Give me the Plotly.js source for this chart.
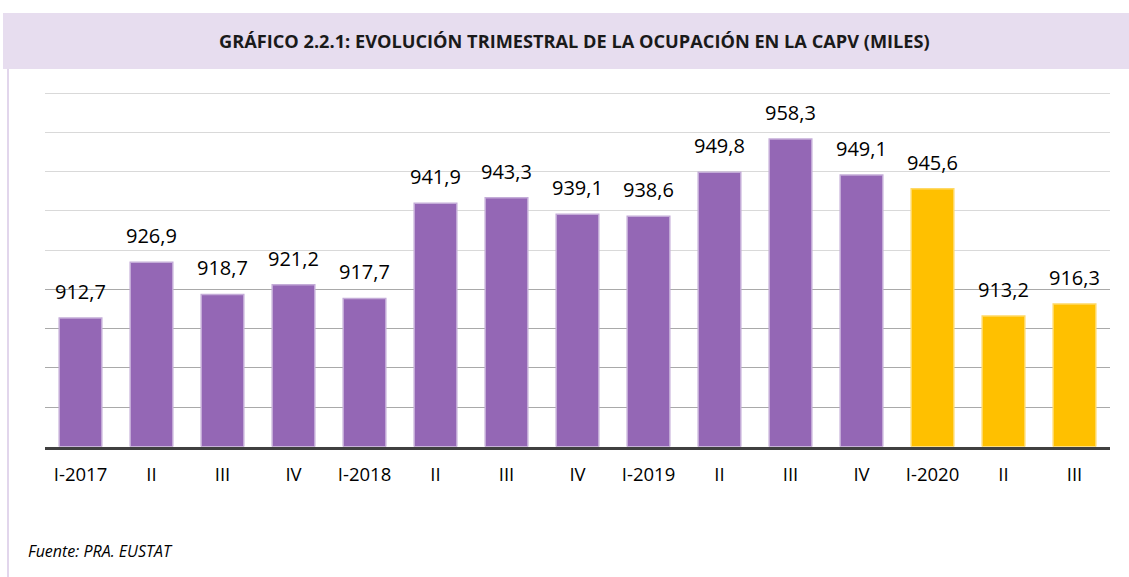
<!DOCTYPE html>
<html><head><meta charset="utf-8">
<script src="https://cdn.plot.ly/plotly-3.0.1.min.js"></script>
<style>html,body{margin:0;padding:0;background:#fff}#c{width:1129px;height:577px}</style>
</head><body><div id="c"></div>
<script>
var categories = ["I-2017","II","III","IV","I-2018","II","III","IV","I-2019","II","III","IV","I-2020","II","III"];
var values = [912.7,926.9,918.7,921.2,917.7,941.9,943.3,939.1,938.6,949.8,958.3,949.1,945.6,913.2,916.3];
var colors = ["#9467b5","#9467b5","#9467b5","#9467b5","#9467b5","#9467b5","#9467b5","#9467b5","#9467b5","#9467b5","#9467b5","#9467b5","#ffc000","#ffc000","#ffc000"];
var lineColors = ["#c4acd8","#c4acd8","#c4acd8","#c4acd8","#c4acd8","#c4acd8","#c4acd8","#c4acd8","#c4acd8","#c4acd8","#c4acd8","#c4acd8","#ffd966","#ffd966","#ffd966"];
var lightGridVals = [930, 940, 950, 960, 970];
var darkGridVals = [890, 900, 910, 920];
var titleText = "GRÁFICO 2.2.1: EVOLUCIÓN TRIMESTRAL DE LA OCUPACIÓN EN LA CAPV (MILES)";
var sourceText = "Fuente: PRA. EUSTAT";

var W = 1129, H = 577;
var xs = categories.map(function(c,i){return i;});
var font = "'Open Sans', 'Noto Sans', sans-serif";
var yRange = [880, 971];
var pxPerUnit = (446.5 - 93) / 90;
var yDomain = [1 - 446.5/H, 1 - (93 - 1 * pxPerUnit)/H];

var trace = {
  type: "bar", x: xs, y: values,
  marker: {color: colors, line: {color: lineColors, width: 1.5}},
  width: 0.6, hoverinfo: "skip"
};
// invisible trace to activate second (overlay) y axis carrying darker gridlines
var ghost = {type: "scatter", x: [0], y: [900], yaxis: "y2", mode: "markers",
  marker: {opacity: 0}, hoverinfo: "skip"};

var annotations = values.map(function(v,i){
  return {x: i, y: v, xref: "x", yref: "y", text: v.toFixed(1).replace(".", ","),
    showarrow: false, yanchor: "bottom", yshift: 11,
    font: {family: font, size: 20, color: "#000"}};
});
annotations.push({xref: "paper", yref: "paper", x: 574/W, y: 1 - 41/H, text: "<b>" + titleText + "</b>",
  showarrow: false, xanchor: "center", yanchor: "middle",
  font: {family: font, size: 18.2, color: "#1a1a1a"}});
annotations.push({xref: "paper", yref: "paper", x: 26/W, y: 1 - 551/H, text: "<i>" + sourceText + "</i>",
  showarrow: false, xanchor: "left", yanchor: "middle",
  font: {family: font, size: 16, color: "#000"}});

var layout = {
  width: W, height: H,
  margin: {l: 0, r: 0, t: 0, b: 0},
  paper_bgcolor: "#fff", plot_bgcolor: "rgba(0,0,0,0)",
  showlegend: false,
  separators: ",.",
  xaxis: {
    domain: [45/W, 1110/W], range: [-0.5, 14.5],
    tickmode: "array", tickvals: xs, ticktext: categories,
    showgrid: false, showline: true, linecolor: "#404040", linewidth: 3,
    ticks: "outside", ticklen: 9, tickcolor: "rgba(0,0,0,0)",
    tickfont: {family: font, size: 18.5, color: "#000"}, fixedrange: true
  },
  yaxis: {
    domain: yDomain, range: yRange,
    tickmode: "array", tickvals: lightGridVals,
    showticklabels: false, showgrid: true, gridcolor: "#d9d9d9", gridwidth: 1,
    zeroline: false, showline: false, fixedrange: true
  },
  yaxis2: {
    domain: yDomain, range: yRange, overlaying: "y", side: "left",
    tickmode: "array", tickvals: darkGridVals,
    showticklabels: false, showgrid: true, gridcolor: "#a9a9a9", gridwidth: 1,
    zeroline: false, showline: false, fixedrange: true
  },
  shapes: [
    {type: "rect", xref: "paper", yref: "paper", x0: 3/W, x1: 1, y0: 1 - 69/H, y1: 1 - 13/H,
      fillcolor: "#e7ddef", line: {width: 0}, layer: "below"},
    {type: "line", xref: "paper", yref: "paper", x0: 8/W, x1: 8/W, y0: 0, y1: 1 - 69/H,
      line: {color: "#e2d6ec", width: 2}, layer: "below"}
  ],
  annotations: annotations
};

Plotly.newPlot("c", [ghost, trace], layout, {staticPlot: true, displayModeBar: false});
</script>
</body></html>
